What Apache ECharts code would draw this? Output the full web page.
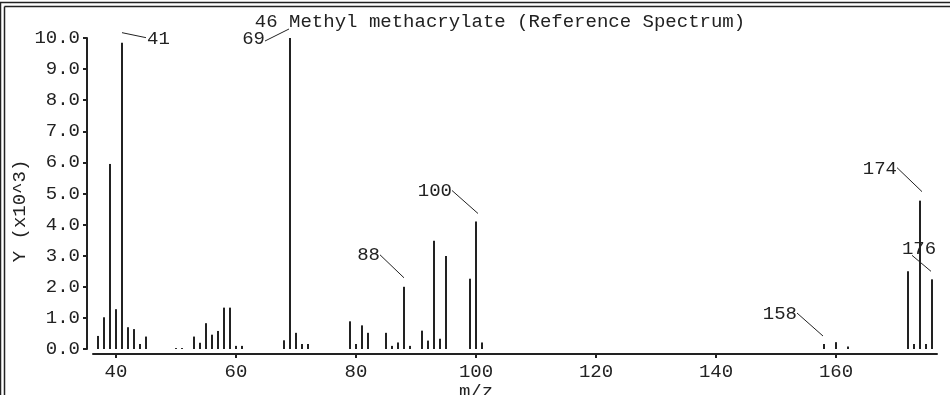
<!DOCTYPE html>
<html>
<head>
<meta charset="utf-8">
<script src="https://cdn.jsdelivr.net/npm/echarts@6/dist/echarts.min.js"></script>
<style>
html,body{margin:0;padding:0;background:#fff;}
#chart{width:950px;height:395px;}
</style>
</head>
<body>
<div id="chart"></div>
<script>
// m/z values of the peaks
var mz = [37,38,39,40,41,42,43,44,45,50,51,53,54,55,56,57,58,59,60,61,68,69,70,71,72,
          79,80,81,82,85,86,87,88,89,91,92,93,94,95,99,100,101,158,160,162,172,173,174,175,176];
// intensities in units of 10^3
var intensity = [0.42,1.02,5.95,1.28,9.85,0.70,0.64,0.16,0.40,0.03,0.03,0.40,0.20,0.83,0.46,0.58,1.33,1.33,0.10,0.10,0.28,10.0,0.52,0.16,0.16,
                 0.89,0.16,0.76,0.52,0.52,0.10,0.21,2.00,0.10,0.59,0.27,3.48,0.33,2.99,2.26,4.10,0.21,0.16,0.22,0.08,2.50,0.16,4.77,0.16,2.24];
// labelled peaks
var peakLabels = [41,69,88,100,158,174,176];
// axis tick labels
var xTicks = [40,60,80,100,120,140,160];
var yTicks = [0,1,2,3,4,5,6,7,8,9,10];

var titleText = '46 Methyl methacrylate (Reference Spectrum)';
var FONT = '"Liberation Mono", "DejaVu Sans Mono", monospace';
var INK = '#222';

var barData = mz.map(function (m, i) { return [m, intensity[i]]; });
var annData = peakLabels.map(function (m) { return [m, intensity[mz.indexOf(m)]]; });

// leader line / text offsets (pixels) relative to the bar top
var annLayout = {
  41:  {l: [0, -10, 24, -5],  t: [25, -4],  a: 'left'},
  69:  {l: [-1, -9, -25, 3],  t: [-25, 1],  a: 'right'},
  88:  {l: [0, -9, -24, -32], t: [-24, -32], a: 'right'},
  100: {l: [2, -8, -24, -31], t: [-24, -31], a: 'right'},
  158: {l: [-1, -8, -27, -31], t: [-27, -30], a: 'right'},
  174: {l: [2, -9, -23, -33], t: [-23, -32], a: 'right'},
  176: {l: [-1, -8, -20, -24], t: [-13, -30], a: 'center'}
};

var chart = echarts.init(document.getElementById('chart'), null, {renderer: 'canvas'});
chart.setOption({
  backgroundColor: '#fff',
  animation: false,
  title: {
    text: titleText, left: 500, top: 12, textAlign: 'center', padding: 0,
    textStyle: {fontFamily: FONT, fontSize: 19, fontWeight: 'normal', color: INK}
  },
  grid: {left: 93, right: 13, top: 38, bottom: 46, containLabel: false, outerBoundsMode: 'none'},
  xAxis: {
    type: 'value', min: 36.1667, max: 176.8333, offset: 5,
    name: 'm/z', nameLocation: 'middle', nameGap: 28, nameMoveOverlap: false,
    nameTextStyle: {fontFamily: FONT, fontSize: 19, color: INK, padding: [0, 78, 0, 0]},
    axisLine: {show: true, onZero: false, lineStyle: {color: INK, width: 2}},
    axisTick: {show: true, length: 4, customValues: xTicks, lineStyle: {color: INK, width: 2}},
    axisLabel: {customValues: xTicks, margin: 8, fontFamily: FONT, fontSize: 19, color: INK},
    splitLine: {show: false}
  },
  yAxis: {
    type: 'value', min: 0, max: 10, interval: 1, offset: 6,
    name: 'Y (x10^3)', nameLocation: 'middle', nameGap: 58, nameRotate: 90, nameMoveOverlap: false,
    nameTextStyle: {fontFamily: FONT, fontSize: 19, color: INK, padding: [0, 35, 0, 0]},
    axisLine: {show: true, lineStyle: {color: INK, width: 2}},
    axisTick: {show: true, length: 4, lineStyle: {color: INK, width: 2}},
    axisLabel: {margin: 7, fontFamily: FONT, fontSize: 19, color: INK,
      formatter: function (v) { return v.toFixed(1); }},
    splitLine: {show: false}
  },
  graphic: [
    {type: 'line', shape: {x1: 0, y1: 2.5, x2: 950, y2: 2.5}, style: {stroke: INK, lineWidth: 1.5}},
    {type: 'line', shape: {x1: 4.5, y1: 6.5, x2: 950, y2: 6.5}, style: {stroke: INK, lineWidth: 1.5}},
    {type: 'line', shape: {x1: 0.5, y1: 2.5, x2: 0.5, y2: 395}, style: {stroke: INK, lineWidth: 1.5}},
    {type: 'line', shape: {x1: 4.5, y1: 6.5, x2: 4.5, y2: 395}, style: {stroke: INK, lineWidth: 1.5}},
    {type: 'text', x: 474, y: 3, style: {text: 'm/z', font: '19px ' + FONT, fill: INK, align: 'center', verticalAlign: 'bottom'}}
  ],
  series: [
    {
      type: 'bar', data: barData, barWidth: 2, itemStyle: {color: INK},
      emphasis: {disabled: true}, silent: true
    },
    {
      type: 'custom', data: annData, clip: false, silent: true, z: 5,
      renderItem: function (params, api) {
        var m = api.value(0), v = api.value(1);
        var p = api.coord([m, v]);
        var o = annLayout[m];
        return {
          type: 'group',
          children: [
            {type: 'line', shape: {x1: p[0] + o.l[0], y1: p[1] + o.l[1], x2: p[0] + o.l[2], y2: p[1] + o.l[3]},
             style: {stroke: INK, lineWidth: 1}},
            {type: 'text', x: p[0] + o.t[0], y: p[1] + o.t[1],
             style: {text: String(m), font: '19px ' + FONT, fill: INK, align: o.a, verticalAlign: 'middle'}}
          ]
        };
      }
    }
  ]
});
</script>
</body>
</html>
